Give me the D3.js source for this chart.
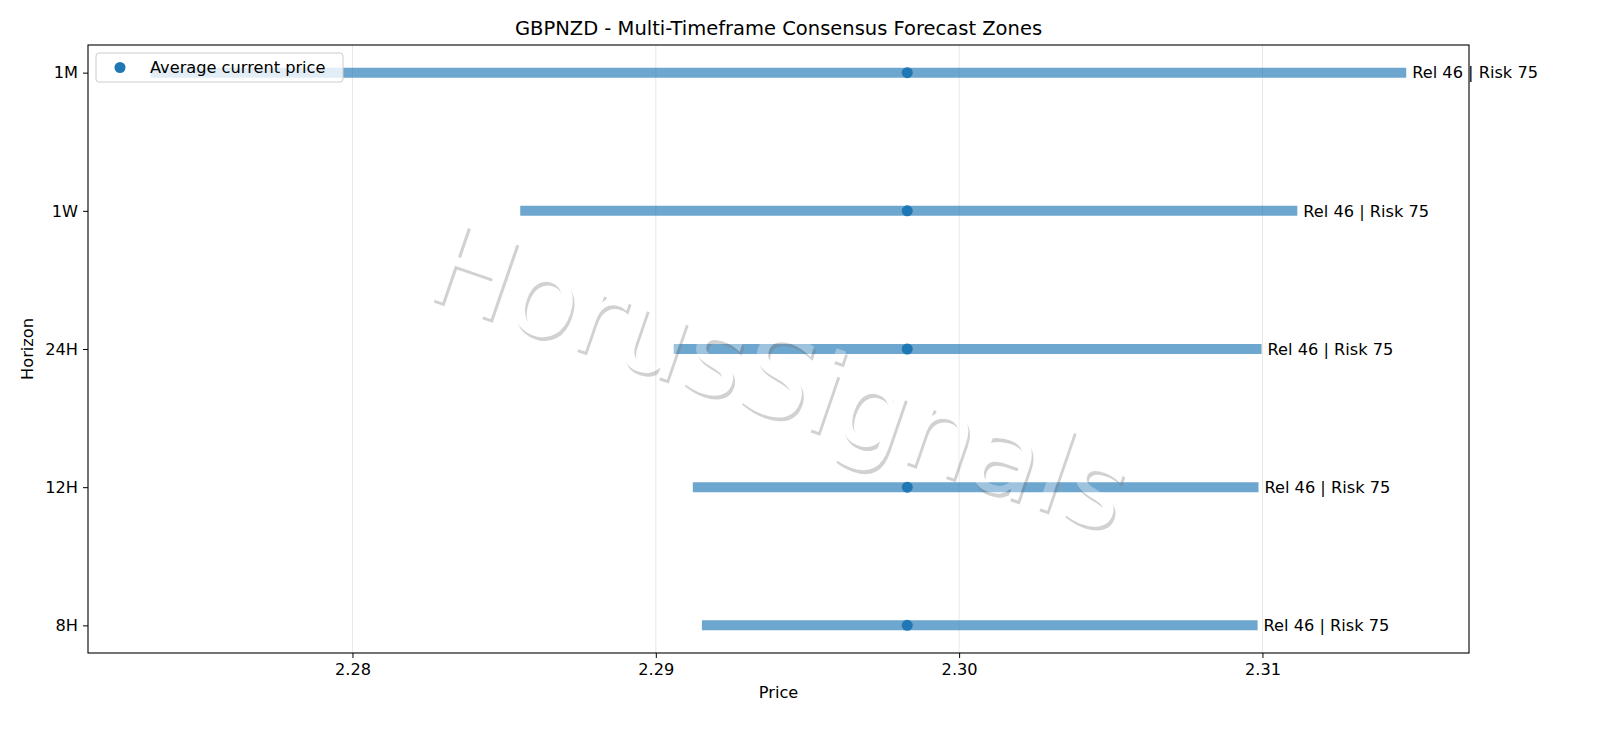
<!DOCTYPE html>
<html>
<head>
<meta charset="utf-8">
<script src="https://cdn.jsdelivr.net/npm/d3@7"></script>
<style>
  html, body { margin: 0; padding: 0; background: #fff; }
  svg { display: block; font-family: "DejaVu Sans", sans-serif; }
</style>
</head>
<body>
<svg id="chart" width="1600" height="738"></svg>
<script>
// ---- data ----
const horizons = ["8H", "12H", "24H", "1W", "1M"];
const zoneLow = [2.29152, 2.29122, 2.29059, 2.28553, 2.27335];
const zoneHigh = [2.30984, 2.30987, 2.30997, 2.31115, 2.31474];
const currentPrice = [2.29829, 2.29829, 2.29829, 2.29829, 2.29829];
const reliability = [46, 46, 46, 46, 46];
const risk = [75, 75, 75, 75, 75];
const xTicks = [2.28, 2.29, 2.30, 2.31];
const titleText = "GBPNZD - Multi-Timeframe Consensus Forecast Zones";
const watermarkText = "HorusSignals";

// ---- layout ----
const m = { left: 88, right: 1469, top: 45, bottom: 653 };
const FS = 16.2;
const svg = d3.select("#chart");

const lo = d3.min(zoneLow), hi = d3.max(zoneHigh);
const pad = (hi - lo) * 0.05;
const x = d3.scaleLinear().domain([lo - pad, hi + pad]).range([m.left, m.right]);
const y = d3.scaleLinear().domain([-0.2, horizons.length - 1 + 0.2]).range([m.bottom, m.top]);

const data = horizons.map((h, i) => ({
  h, i, lo: zoneLow[i], hi: zoneHigh[i], cur: currentPrice[i], rel: reliability[i], risk: risk[i]
}));

// grid
svg.append("g").selectAll("line").data(xTicks).join("line")
  .attr("x1", d => x(d)).attr("x2", d => x(d))
  .attr("y1", m.top).attr("y2", m.bottom)
  .attr("stroke", "#b0b0b0").attr("stroke-opacity", 0.3).attr("stroke-width", 1);

// zones
svg.append("g").selectAll("line").data(data).join("line")
  .attr("x1", d => x(d.lo)).attr("x2", d => x(d.hi))
  .attr("y1", d => y(d.i)).attr("y2", d => y(d.i))
  .attr("stroke", "#1f77b4").attr("stroke-opacity", 0.65).attr("stroke-width", 10);

// points
svg.append("g").selectAll("circle").data(data).join("circle")
  .attr("cx", d => x(d.cur)).attr("cy", d => y(d.i)).attr("r", 5.5)
  .attr("fill", "#1f77b4");

// labels
svg.append("g").selectAll("text").data(data).join("text")
  .attr("x", d => x(d.hi) + 6).attr("y", d => y(d.i))
  .attr("dy", "0.36em")
  .attr("font-size", FS).attr("fill", "#000")
  .text(d => `Rel ${d.rel} | Risk ${d.risk}`);

// watermark
const wm = svg.append("g").attr("opacity", 0.33)
  .attr("transform", "translate(780,376) rotate(19)");
wm.append("text").attr("x", 3).attr("y", 3)
  .attr("text-anchor", "middle").attr("dy", "0.36em")
  .attr("font-size", 112).attr("fill", "#777")
  .text(watermarkText);
wm.append("text").attr("x", 0).attr("y", 0)
  .attr("text-anchor", "middle").attr("dy", "0.36em")
  .attr("font-size", 112).attr("fill", "#fff")
  .text(watermarkText);

// axes frame
svg.append("rect").attr("x", m.left).attr("y", m.top)
  .attr("width", m.right - m.left).attr("height", m.bottom - m.top)
  .attr("fill", "none").attr("stroke", "#000").attr("stroke-width", 1.1);

// x axis
const xAxis = svg.append("g").attr("transform", `translate(0,${m.bottom})`)
  .call(d3.axisBottom(x).tickValues(xTicks).tickFormat(d3.format(".2f")).tickSize(5).tickPadding(5));
xAxis.select(".domain").remove();
xAxis.selectAll("text").attr("font-size", FS).attr("font-family", "DejaVu Sans").attr("fill", "#000");
xAxis.selectAll("line").attr("stroke", "#000");

// y axis
const yAxis = svg.append("g").attr("transform", `translate(${m.left},0)`)
  .call(d3.axisLeft(y).tickValues(d3.range(horizons.length)).tickFormat(i => horizons[i]).tickSize(5).tickPadding(5));
yAxis.select(".domain").remove();
yAxis.selectAll("text").attr("font-size", FS).attr("font-family", "DejaVu Sans").attr("fill", "#000");
yAxis.selectAll("line").attr("stroke", "#000");

// axis labels
svg.append("text").attr("x", (m.left + m.right) / 2).attr("y", 698)
  .attr("text-anchor", "middle").attr("font-size", FS).text("Price");
svg.append("text").attr("transform", `translate(33,${(m.top + m.bottom) / 2}) rotate(-90)`)
  .attr("text-anchor", "middle").attr("font-size", FS).text("Horizon");

// title
svg.append("text").attr("x", (m.left + m.right) / 2).attr("y", 35)
  .attr("text-anchor", "middle").attr("font-size", 19.5).text(titleText);

// legend
const lg = svg.append("g");
lg.append("rect").attr("x", 96).attr("y", 53).attr("width", 247).attr("height", 29)
  .attr("rx", 3).attr("fill", "#fff").attr("fill-opacity", 0.8)
  .attr("stroke", "#cccccc").attr("stroke-width", 1);
lg.append("circle").attr("cx", 120).attr("cy", 67.5).attr("r", 5.5).attr("fill", "#1f77b4");
lg.append("text").attr("x", 150).attr("y", 67.5).attr("dy", "0.36em")
  .attr("font-size", FS).text("Average current price");
</script>
</body>
</html>
